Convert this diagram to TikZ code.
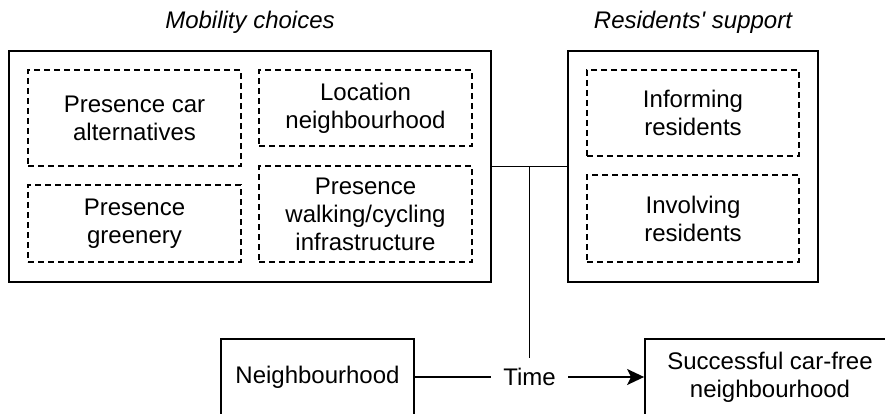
\documentclass[tikz,border=0pt]{standalone}
\usepackage{fontspec}
\setmainfont{Liberation Sans}
\usepackage{tikz}
\usetikzlibrary{arrows.meta}
\tikzset{>={Stealth[length=17pt, width=16pt, inset=4pt]}}
\tikzset{
    groupbox/.style={draw, line width=1.8pt, inner sep=0pt},
    factorbox/.style={draw, line width=1.5pt, dash pattern=on 6pt off 4pt, align=center, inner sep=0pt,
        minimum width=213pt, font=\fontsize{24}{28}\selectfont},
    grouptitle/.style={font=\fontsize{24}{28}\selectfont\itshape},
    stagebox/.style={draw, line width=1.8pt, align=center, minimum height=76pt, inner sep=0pt,
        font=\fontsize{24}{28}\selectfont},
    timelabel/.style={fill=white, minimum width=77pt, minimum height=38pt, inner sep=0pt,
        font=\fontsize{24}{28}\selectfont}
}

\begin{document}
\begin{tikzpicture}[x=1pt, y=-1pt]
            \useasboundingbox (0, 0) rectangle (885, 414);
            \clip (0, 0) rectangle (885, 414);
            % the two groups of factors
            \node[groupbox, minimum width=482pt, minimum height=231pt] (mobility) at (250, 166.5) {};
            \node[groupbox, minimum width=250pt, minimum height=231pt] (support) at (693, 166.5) {};
            \node[grouptitle] (mobilitytitle) at (250, 22) {Mobility choices};
            \node[grouptitle] (supporttitle) at (693, 22) {Residents\textquotesingle{} support};
            \node[factorbox, minimum height=96pt] (caralt) at (134.5, 118) {Presence car\\alternatives};
            \node[factorbox, minimum height=76pt] (location) at (365.5, 108) {Location\\neighbourhood};
            \node[factorbox, minimum height=77pt] (greenery) at (134.5, 223.5) {Presence\\greenery};
            \node[factorbox, minimum height=96pt] (walking) at (365.5, 214) {Presence\\walking/cycling\\infrastructure};
            \node[factorbox, minimum width=212pt, minimum height=86pt] (informing) at (693, 113) {Informing\\residents};
            \node[factorbox, minimum width=212pt, minimum height=87pt] (involving) at (693, 218.5) {Involving\\residents};
            % from neighbourhood to result
            \node[stagebox, minimum width=193pt] (neighbourhood) at (317.5, 377) {Neighbourhood};
            \node[stagebox, minimum width=250pt] (success) at (770, 377) {Successful car-free\\neighbourhood};
            \draw[line width=1.6pt] (mobility) -- coordinate[midway] (junction) (support);
            \draw[line width=1.6pt] (junction) -- (junction |- neighbourhood.east);
            \draw[line width=1.6pt, ->] (neighbourhood) -- node[timelabel] (time) {Time} (success);
        \end{tikzpicture}
\end{document}
